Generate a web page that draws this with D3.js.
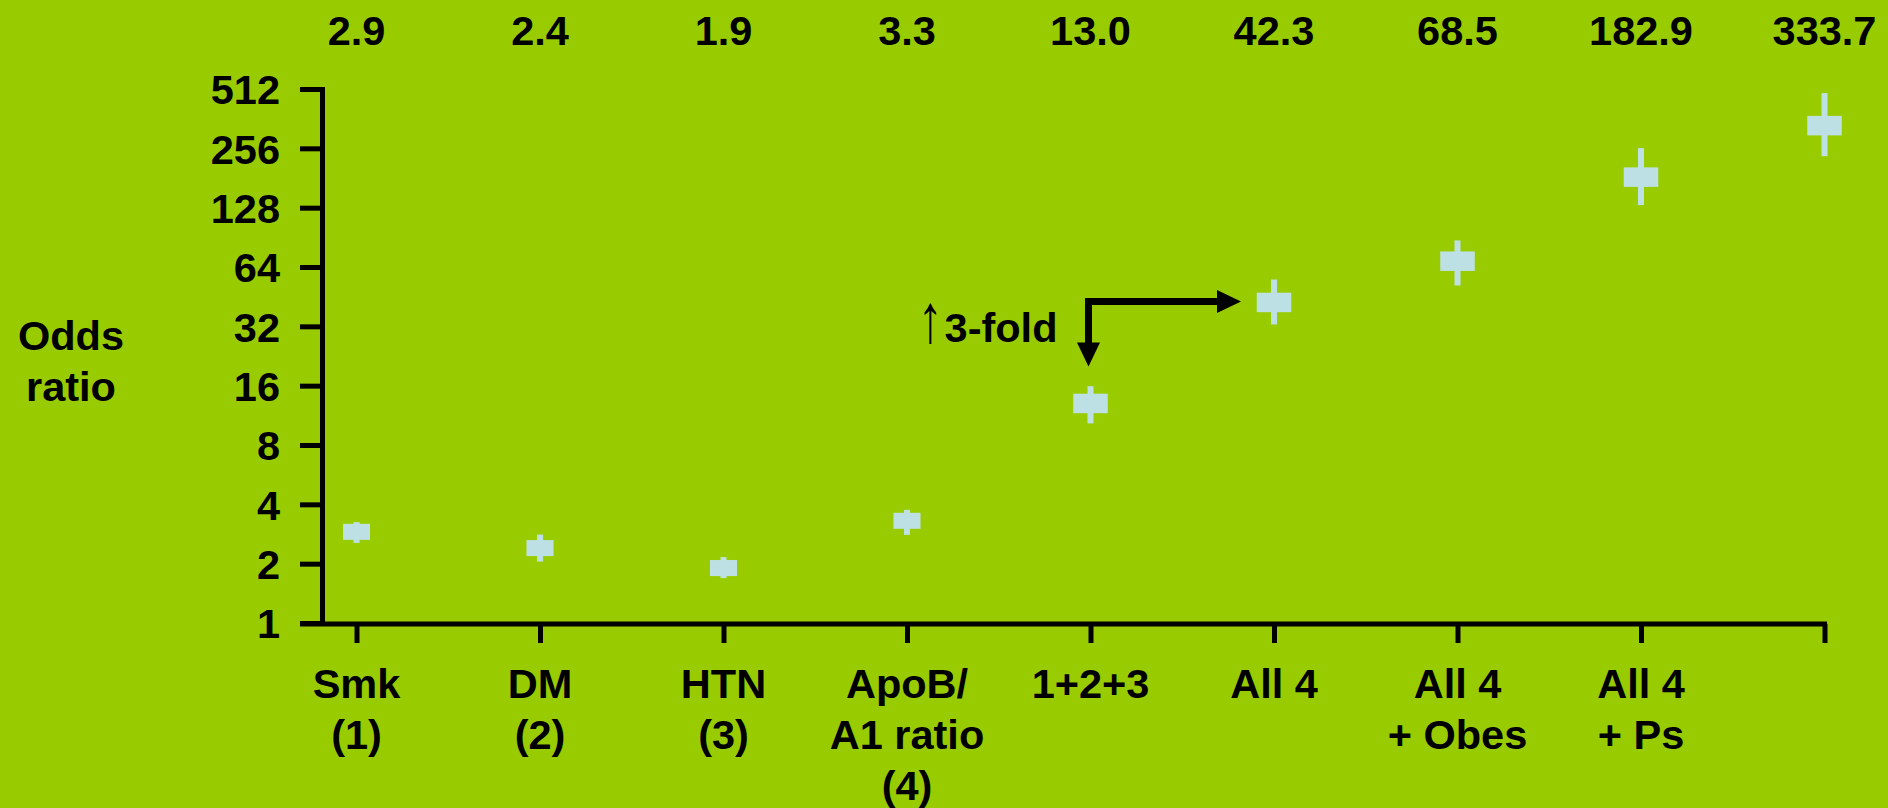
<!DOCTYPE html>
<html>
<head>
<meta charset="utf-8">
<script src="https://cdn.jsdelivr.net/npm/d3@7"></script>
<style>
  html, body { margin: 0; padding: 0; background: #99CC00; }
  svg { display: block; }
  text { font-family: "Liberation Sans", Arial, sans-serif; font-weight: bold; fill: #000; }
</style>
</head>
<body>
<svg id="chart" width="1888" height="808"></svg>
<script>
// ---- data ----
const categories = ["Smk (1)", "DM (2)", "HTN (3)", "ApoB/A1 ratio (4)", "1+2+3", "All 4", "All 4 + Obes", "All 4 + Ps", "All"];
const categoryLines = [["Smk", "(1)"], ["DM", "(2)"], ["HTN", "(3)"], ["ApoB/", "A1 ratio", "(4)"], ["1+2+3"], ["All 4"], ["All 4", "+ Obes"], ["All 4", "+ Ps"], []];
const oddsRatio = [2.9, 2.4, 1.9, 3.3, 13.0, 42.3, 68.5, 182.9, 333.7];
const ciLow  = [2.55, 2.05, 1.69, 2.80, 10.3, 32.7, 51.6, 131.9, 233.7];
const ciHigh = [3.25, 2.81, 2.16, 3.75, 15.9, 55.3, 87.3, 256.7, 487.9];
const yTicks = [1, 2, 4, 8, 16, 32, 64, 128, 256, 512];
const yTitle = ["Odds", "ratio"];
const annotation = "3-fold";

// ---- layout ----
const W = 1888, H = 808;
const FS = 41.5;
const svg = d3.select("#chart");
svg.append("rect").attr("width", W).attr("height", H).attr("fill", "#99CC00");

const x = d3.scalePoint().domain(categories).range([356.5, 1824.5]);
const y = d3.scaleLog().base(2).domain([1, 512]).range([623, 89]);
const axisX = 322;
const tickLen = 22;

// y axis
const yAxis = d3.axisLeft(y).tickValues(yTicks).tickFormat(d => d)
  .tickSize(tickLen).tickSizeOuter(0).tickPadding(20);
const gy = svg.append("g").attr("transform", `translate(${axisX},0)`).call(yAxis);
gy.select(".domain").attr("stroke", "#000").attr("stroke-width", 5).attr("stroke-linecap", "square");
gy.selectAll(".tick line").attr("stroke", "#000").attr("stroke-width", 5);
gy.selectAll(".tick text").attr("font-size", FS).attr("font-family", null).attr("dy", "0.36em").attr("fill", "#000");

// x axis
const baseY = y(1);
const xAxis = d3.axisBottom(x).tickSize(19).tickSizeOuter(0).tickFormat("");
const gx = svg.append("g").attr("transform", `translate(0,${baseY + 1})`).call(xAxis);
gx.select(".domain").remove();
gx.selectAll(".tick line").attr("stroke", "#000").attr("stroke-width", 5);
svg.append("line")
  .attr("x1", axisX - tickLen).attr("x2", x(categories[categories.length - 1]) + 2.5)
  .attr("y1", baseY + 1).attr("y2", baseY + 1)
  .attr("stroke", "#000").attr("stroke-width", 5);

// category labels
const catG = svg.append("g");
categories.forEach((c, i) => {
  const t = catG.append("text").attr("text-anchor", "middle").attr("font-size", FS);
  categoryLines[i].forEach((ln, j) => {
    t.append("tspan").attr("x", x(c)).attr("y", 698 + j * 51).text(ln);
  });
});

// value labels on top
const fmt = d3.format(".1f");
svg.append("g").selectAll("text").data(oddsRatio).join("text")
  .attr("x", (d, i) => x(categories[i])).attr("y", 44.5)
  .attr("text-anchor", "middle").attr("font-size", FS)
  .text(d => fmt(d));

// y title
const yt = svg.append("text").attr("text-anchor", "middle").attr("font-size", FS);
yTitle.forEach((ln, j) => yt.append("tspan").attr("x", 71).attr("y", 350 + j * 51).text(ln));

// markers
const markerColor = "#BDE0E5";
const mg = svg.append("g");
oddsRatio.forEach((v, i) => {
  const cx = x(categories[i]);
  const bw = i < 4 ? 27 : 34.5, bh = i < 4 ? 16 : 19.5;
  mg.append("rect").attr("x", cx - 3).attr("width", 6)
    .attr("y", y(ciHigh[i])).attr("height", y(ciLow[i]) - y(ciHigh[i]))
    .attr("fill", markerColor);
  mg.append("rect").attr("x", cx - bw / 2).attr("y", y(v) - bh / 2)
    .attr("width", bw).attr("height", bh).attr("fill", markerColor);
});

// annotation arrow
const ax = x(categories[4]) - 2;
const hy = y(oddsRatio[5]) - 1;
const vTip = y(oddsRatio[4]) - 37;
const hTip = x(categories[5]) - 33;
const head = 24, hw = 11.5;
svg.append("path")
  .attr("d", `M${ax},${vTip - head + 1}V${hy}H${hTip - head + 1}`)
  .attr("fill", "none").attr("stroke", "#000").attr("stroke-width", 7)
  .attr("stroke-linejoin", "miter");
svg.append("path")
  .attr("d", `M${ax - hw},${vTip - head}L${ax + hw},${vTip - head}L${ax},${vTip}Z`)
  .attr("fill", "#000");
svg.append("path")
  .attr("d", `M${hTip - head},${hy - hw}L${hTip - head},${hy + hw}L${hTip},${hy}Z`)
  .attr("fill", "#000");
const textEnd = ax - 31, textBase = hy + 41;
const at = svg.append("text").attr("x", textEnd).attr("y", textBase)
  .attr("text-anchor", "end").attr("font-size", FS).text(annotation);
const tLen = at.node().getComputedTextLength();
svg.append("text")
  .attr("transform", `translate(${textEnd - tLen - 2},${textBase}) scale(1.2,1.65)`)
  .attr("text-anchor", "end").attr("font-size", FS).attr("font-weight", "normal")
  .text("\u2191");
</script>
</body>
</html>
